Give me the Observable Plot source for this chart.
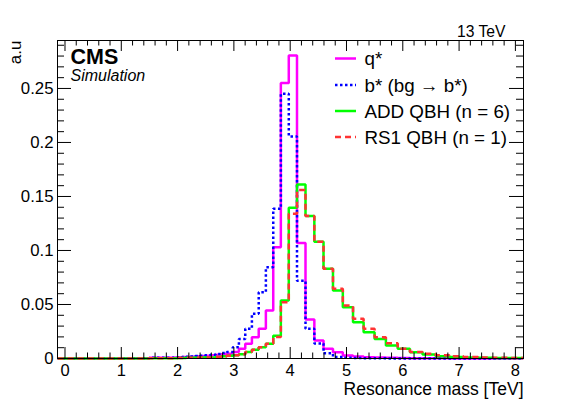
<!DOCTYPE html>
<html><head><meta charset="utf-8">
<script src="https://cdn.jsdelivr.net/npm/d3@7"></script>
<script src="https://cdn.jsdelivr.net/npm/@observablehq/plot@0.6"></script>
<style>body{margin:0;background:#fff} svg{display:block}</style>
</head><body><div id="chart"></div>
<script>
// Bin edges (TeV)
const binEdges = [-0.13, 1.0, 1.5, 1.933, 2.004, 2.078, 2.154, 2.233, 2.315, 2.400, 2.488, 2.580, 2.674, 2.773, 2.874, 2.980, 3.089, 3.202, 3.320, 3.441, 3.568, 3.699, 3.834, 3.975, 4.121, 4.272, 4.429, 4.592, 4.760, 4.935, 5.116, 5.304, 5.499, 5.700, 5.910, 6.127, 6.351, 6.584, 6.826, 7.077, 7.336, 7.606, 7.885, 8.14];
// bin contents (a.u.)
const qStar  = [0, 0.0003, 0.0008, 0.001, 0.0012, 0.0013, 0.0015, 0.0017, 0.002, 0.0023, 0.0026, 0.003, 0.0034, 0.004, 0.0045, 0.006, 0.009, 0.0136, 0.0197, 0.0275, 0.0444, 0.103, 0.255, 0.2806, 0.107, 0.036, 0.0167, 0.009, 0.0058, 0.0028, 0.0018, 0.0012, 0.0009, 0.0006, 0.0005, 0.0003, 0.0002, 0.0002, 0.0001, 0.0001, 0, 0, 0];
const bStar  = [0, 0.0002, 0.0006, 0.001, 0.0012, 0.0014, 0.0016, 0.0019, 0.0022, 0.0026, 0.003, 0.0035, 0.0042, 0.005, 0.006, 0.0105, 0.018, 0.0275, 0.0414, 0.0614, 0.0845, 0.1386, 0.245, 0.2056, 0.072, 0.0275, 0.014, 0.0048, 0.0015, 0.0008, 0.0005, 0.0003, 0.0002, 0.0001, 0.0001, 0, 0, 0, 0, 0, 0, 0, 0];
const addQBH = [0, 0.0001, 0.0002, 0.0003, 0.0004, 0.0005, 0.0006, 0.0007, 0.0008, 0.0009, 0.001, 0.001, 0.0015, 0.002, 0.0025, 0.003, 0.004, 0.006, 0.008, 0.0105, 0.0136, 0.021, 0.0537, 0.1395, 0.161, 0.132, 0.108, 0.083, 0.063, 0.0475, 0.0336, 0.0244, 0.018, 0.012, 0.009, 0.0058, 0.0037, 0.002, 0.0015, 0.001, 0.0008, 0.0005, 0.0004];
const rs1QBH = [0, 0.0001, 0.0002, 0.0003, 0.0004, 0.0005, 0.0006, 0.0007, 0.0008, 0.0009, 0.001, 0.001, 0.0015, 0.002, 0.0025, 0.003, 0.004, 0.006, 0.008, 0.0105, 0.0136, 0.020, 0.052, 0.134, 0.156, 0.132, 0.108, 0.083, 0.0645, 0.049, 0.0367, 0.0275, 0.0197, 0.0142, 0.009, 0.006, 0.0043, 0.003, 0.002, 0.0015, 0.001, 0.0007, 0.0005];
const xTickLabels = [0, 1, 2, 3, 4, 5, 6, 7, 8];
const yTickLabels = [0, 0.05, 0.1, 0.15, 0.2, 0.25];
const legendLabels = ["q*", "b* (bg \u2192 b*)", "ADD QBH (n = 6)", "RS1 QBH (n = 1)"];
const xTitle = "Resonance mass [TeV]";
const yTitle = "a.u";

const W = 581, H = 399, mL = 57, mR = 58, mT = 40, mB = 41;
const fw = W - mL - mR, fh = H - mT - mB;
const font = "'Liberation Sans', Arial, Helvetica, sans-serif";

function steps(vals) {
  const pts = vals.map((v, i) => ({x: binEdges[i], y: v}));
  pts.push({x: binEdges[vals.length], y: vals[vals.length - 1]});
  return pts;
}
const series = [
  {vals: qStar, color: "#ff00ff", dash: null},
  {vals: bStar, color: "#0000ff", dash: "2.5,2.5"},
  {vals: addQBH, color: "#00ff00", dash: null},
  {vals: rs1QBH, color: "#ff3333", dash: "6,4"}
];
const xMinor = d3.range(0, 8.15, 0.2).filter(v => Math.abs(v - Math.round(v)) > 1e-6);
const yMinor = d3.range(0, 0.2941, 0.01).filter(v => Math.abs(v * 20 - Math.round(v * 20)) > 1e-6);

const marks = [];
for (const s of series) {
  marks.push(Plot.line(steps(s.vals), {x: "x", y: "y", curve: "step-after", stroke: s.color,
    strokeWidth: 2.5, strokeDasharray: s.dash, strokeLinejoin: "miter", strokeLinecap: "butt"}));
}
// ticks (inside, both sides)
marks.push(
  Plot.tickX(xTickLabels, {x: d => d, stroke: "black", insetTop: fh - 11}),
  Plot.tickX(xTickLabels, {x: d => d, stroke: "black", insetBottom: fh - 11}),
  Plot.tickX(xMinor, {x: d => d, stroke: "black", insetTop: fh - 5.5}),
  Plot.tickX(xMinor, {x: d => d, stroke: "black", insetBottom: fh - 5.5}),
  Plot.tickY(yTickLabels, {y: d => d, stroke: "black", insetRight: fw - 14}),
  Plot.tickY(yTickLabels, {y: d => d, stroke: "black", insetLeft: fw - 14}),
  Plot.tickY(yMinor, {y: d => d, stroke: "black", insetRight: fw - 7}),
  Plot.tickY(yMinor, {y: d => d, stroke: "black", insetLeft: fw - 7}),
  Plot.frame({stroke: "black"}),
  Plot.axisX({ticks: xTickLabels, tickSize: 0, tickPadding: 5.5, fontSize: 16.5, label: null, tickFormat: d => String(d)}),
  Plot.axisY({ticks: yTickLabels, tickSize: 0, tickPadding: 4, fontSize: 16.8, label: null, tickFormat: d => String(d)}),
  Plot.text([xTitle], {frameAnchor: "bottom-right", textAnchor: "end", lineAnchor: "top", dy: 24.5, fontSize: 17.5}),
  Plot.text([yTitle], {frameAnchor: "top-left", textAnchor: "end", lineAnchor: "middle", rotate: -90, dx: -42, dy: 0, fontSize: 17}),
  Plot.text(["13 TeV"], {frameAnchor: "top-right", textAnchor: "end", lineAnchor: "top", dx: -18, dy: -15, fontSize: 15.7}),
  Plot.text(["CMS"], {frameAnchor: "top-left", textAnchor: "start", lineAnchor: "top", dx: 13, dy: 8, fontSize: 21.5, fontWeight: "bold"}),
  Plot.text(["Simulation"], {frameAnchor: "top-left", textAnchor: "start", lineAnchor: "top", dx: 13, dy: 29, fontSize: 16, fontStyle: "italic"})
);
const rowY = [58.5, 85, 111, 137];
legendLabels.forEach((t, i) => {
  marks.push(Plot.text([t], {frameAnchor: "top-left", textAnchor: "start", lineAnchor: "middle", dx: 307, dy: rowY[i] - mT, fontSize: 18.8}));
});

const plot = Plot.plot({
  width: W, height: H,
  marginLeft: mL, marginRight: mR, marginTop: mT, marginBottom: mB,
  style: {fontFamily: font, background: "#fff", color: "black", overflow: "visible"},
  x: {type: "linear", domain: [-0.133, 8.144]},
  y: {type: "linear", domain: [0, 0.2944]},
  marks
});
const svg = d3.select(plot);
series.forEach((s, i) => {
  svg.append("line").attr("x1", 335).attr("x2", 356).attr("y1", rowY[i]).attr("y2", rowY[i])
    .attr("stroke", s.color).attr("stroke-width", 2.5).attr("stroke-dasharray", s.dash);
});
document.getElementById("chart").appendChild(plot);
</script>
</body></html>
